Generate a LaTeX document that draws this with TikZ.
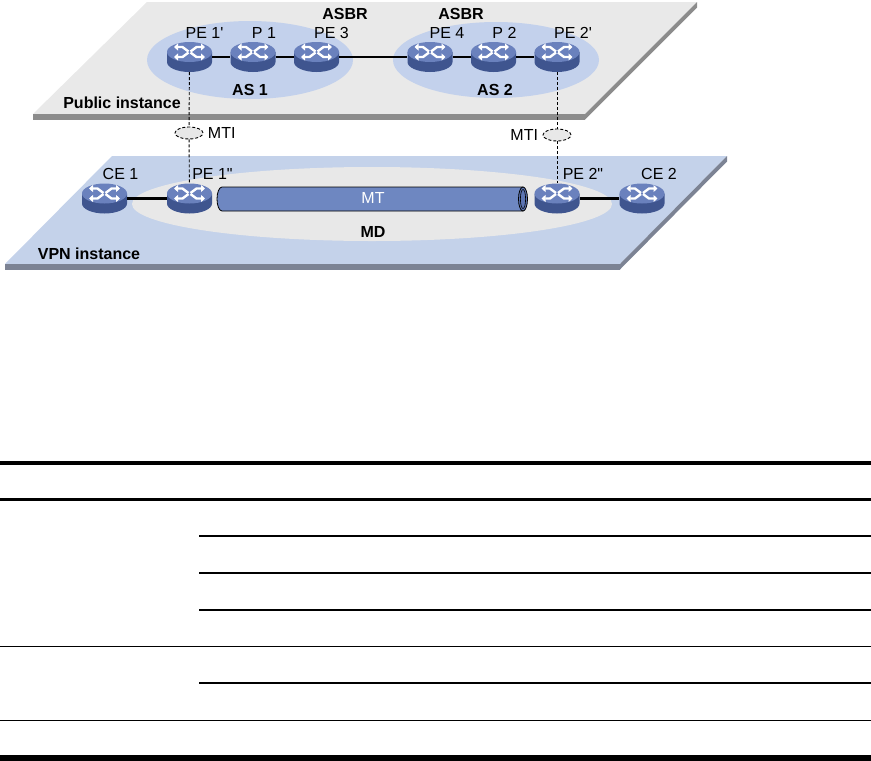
\documentclass[tikz,border=0pt]{standalone}
\usepackage{fontspec}
\setmainfont{Liberation Sans}
\usetikzlibrary{positioning,shapes.geometric,arrows.meta}
\definecolor{pubface}{HTML}{E9E9E9}
\definecolor{pubside}{HTML}{8C8C8C}
\definecolor{vpnface}{HTML}{C4D2EA}
\definecolor{vpnside}{HTML}{7C8394}
\definecolor{asfill}{HTML}{C3D1EC}
\definecolor{mdfill}{HTML}{E8E8E8}
\definecolor{rtop}{HTML}{6A81BD}
\definecolor{rside}{HTML}{3F558F}
\definecolor{tubefill}{HTML}{6E87C1}
\definecolor{tubeend}{HTML}{5C75B3}
\newcommand{\pq}{\textquotesingle}
\newcommand{\dq}{\textquotedbl}
\tikzset{
  lbl/.style={font=\fontsize{16}{19}\selectfont},
  bold/.style={font=\fontsize{16}{19}\selectfont\bfseries},
  router/.style={rectangle, minimum width=45pt, minimum height=30pt, inner sep=0pt,
    label distance=-1pt,
    path picture={
      \fill[rside] ([shift={(-22.5pt,5pt)}]path picture bounding box.center)
        -- ([shift={(-22.5pt,-5pt)}]path picture bounding box.center)
        arc[start angle=180, end angle=360, x radius=22.5pt, y radius=10pt]
        -- ([shift={(22.5pt,5pt)}]path picture bounding box.center) -- cycle;
      \fill[rtop] ([shift={(0pt,5pt)}]path picture bounding box.center)
        ellipse[x radius=22.5pt, y radius=10pt];
      \foreach \sx in {-1,1}
        \foreach \sy in {-1,1}
          \draw[white, line width=2.4pt, -{Triangle[length=4pt, width=7pt]}]
            ([shift={({\sx*1pt},{5pt+\sy*0.5pt})}]path picture bounding box.center)
            -- ([shift={({\sx*7pt},{5pt+\sy*5pt})}]path picture bounding box.center)
            -- ([shift={({\sx*15.5pt},{5pt+\sy*5pt})}]path picture bounding box.center);
    }},
  link/.style={line width=2.8pt},
  mtilink/.style={line width=0.9pt, dash pattern=on 3pt off 2pt},
  mti/.style={ellipse, draw, line width=0.9pt, dash pattern=on 3pt off 2pt, fill=mdfill,
    minimum width=28pt, minimum height=12pt, inner sep=0pt}
}
\begin{document}
\begin{tikzpicture}[x=1pt, y=-1pt, node distance=63.5pt]
\useasboundingbox (0,0) rectangle (871,761);

\fill[pubface] (147,2) -- (697,2) -- (585,114) -- (33,114) -- cycle;
\fill[pubside] (33,114) -- (585,114) -- (585,119.5) -- (33,119.5) -- cycle;
\fill[pubside] (585,114) -- (697,2) -- (697,7.5) -- (585,119.5) -- cycle;
\fill[asfill] (250,60) ellipse[x radius=103pt, y radius=39pt];
\fill[asfill] (496,60) ellipse[x radius=103pt, y radius=38pt];

\fill[vpnface] (112,156) -- (727,156) -- (620,264) -- (5,264) -- cycle;
\fill[vpnside] (5,264) -- (620,264) -- (620,269.5) -- (5,269.5) -- cycle;
\fill[vpnside] (620,264) -- (727,156) -- (727,161.5) -- (620,269.5) -- cycle;
\fill[mdfill] (372,204) ellipse[x radius=240pt, y radius=37pt];

\filldraw[fill=tubefill, draw=black, line width=0.8pt] (523,187) -- (222,187)
  arc[start angle=90, end angle=270, x radius=5pt, y radius=12pt] -- (523,211) -- cycle;
\filldraw[fill=tubeend, draw=black, line width=0.8pt] (523,199) ellipse[x radius=4.5pt, y radius=12pt];
\draw[line width=0.6pt] (523,199) ellipse[x radius=2.6pt, y radius=9.5pt];
\node[lbl, text=white] (mt) at (373,198) {MT};

\node[router, label={[lbl, xshift=15pt]above:PE 1\pq}] (pe1a) at (189.5,57) {};
\node[router, right of=pe1a, label={[lbl, xshift=11pt]above:P 1}] (p1) {};
\node[router, right of=p1, label={[lbl, xshift=15pt]above:PE 3}] (pe3) {};
\node[router, right of=pe3, xshift=50pt, label={[lbl, xshift=17pt]above:PE 4}] (pe4) {};
\node[router, right of=pe4, label={[lbl, xshift=11pt]above:P 2}] (p2) {};
\node[router, right of=p2, label={[lbl, xshift=16pt]above:PE 2\pq}] (pe2a) {};

\node[router, below of=pe1a, yshift=-78pt, label={[lbl, xshift=23pt]above:PE 1\dq}] (pe1b) {};
\node[router, left of=pe1b, xshift=-21.5pt, label={[lbl, xshift=16pt]above:CE 1}] (ce1) {};
\node[router, below of=pe2a, yshift=-78pt, label={[lbl, xshift=26pt]above:PE 2\dq}] (pe2b) {};
\node[router, right of=pe2b, xshift=21.5pt, label={[lbl, xshift=17pt]above:CE 2}] (ce2) {};

\node[bold] (asbr1) at (345,14) {ASBR};
\node[bold] (asbr2) at (461,14) {ASBR};
\node[bold] (as1) at (250,90) {AS 1};
\node[bold] (as2) at (495,90) {AS 2};
\node[bold] (pub) at (122,103) {Public instance};
\node[bold] (vpn) at (89,254) {VPN instance};
\node[bold] (md) at (373,232) {MD};

\node[mti] (mti1) at (189,133) {};
\node[mti] (mti2) at (557,135) {};
\node[lbl, right=1pt of mti1] (mtil1) {MTI};
\node[lbl, left=1pt of mti2] (mtil2) {MTI};

\draw[link] (pe1a) -- (p1) -- (pe3) -- (pe4) -- (p2) -- (pe2a);
\draw[link] (ce1) -- (pe1b);
\draw[link] (pe2b) -- (ce2);
\draw[mtilink] (pe1a) -- (mti1) -- (pe1b);
\draw[mtilink] (pe2a) -- (mti2) -- (pe2b);

\draw[line width=4pt] (0,463) -- (871,463);
\draw[line width=3pt] (0,499) -- (871,499);
\foreach \y in {536,573,610,683}
  \draw[line width=1.3pt] (199,\y) -- (871,\y);
\foreach \y in {646.3,720.3}
  \draw[line width=1.3pt] (0,\y) -- (871,\y);
\draw[line width=6pt] (0,758) -- (871,758);
\end{tikzpicture}
\end{document}
